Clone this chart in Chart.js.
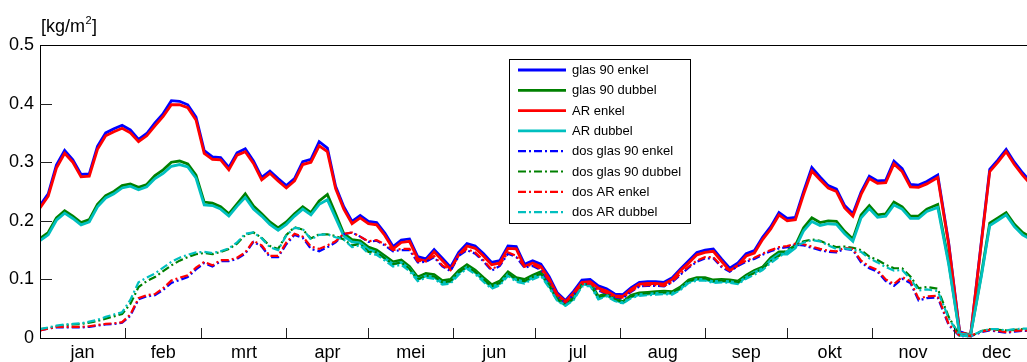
<!DOCTYPE html>
<html>
<head>
<meta charset="utf-8">
<script src="https://cdn.jsdelivr.net/npm/chart.js@4.4.1/dist/chart.umd.min.js"></script>
<style>
  html, body { margin: 0; padding: 0; background: #fff; overflow: hidden; }
  #wrap { width: 1045px; height: 362px; }
</style>
</head>
<body>
<div id="wrap"><canvas id="chart"></canvas></div>
<script>
// day of year for every sample
const days = [
  0, 3, 6, 9, 12, 15, 18, 21, 24, 27,
  30, 33, 36, 39, 42, 45, 48, 51, 54, 57,
  60, 63, 66, 69, 72, 75, 78, 81, 84, 87,
  90, 93, 96, 99, 102, 105, 108, 111, 114, 117,
  120, 123, 126, 129, 132, 135, 138, 141, 144, 147,
  150, 153, 156, 159, 162, 165, 168, 171, 174, 177,
  180, 183, 186, 189, 192, 195, 198, 201, 204, 207,
  210, 213, 216, 219, 222, 225, 228, 231, 234, 237,
  240, 243, 246, 249, 252, 255, 258, 261, 264, 267,
  270, 273, 276, 279, 282, 285, 288, 291, 294, 297,
  300, 303, 306, 309, 312, 315, 318, 321, 324, 328,
  332, 336, 340, 344, 347, 350, 353, 356, 359, 362,
  365
];

const months = ["jan", "feb", "mrt", "apr", "mei", "jun", "jul", "aug", "sep", "okt", "nov", "dec"];
const monthStarts = [0, 31, 59, 90, 120, 151, 181, 212, 243, 273, 304, 334, 365];
const yTicks = [0, 0.1, 0.2, 0.3, 0.4, 0.5];

// condensation [kg/m2] per glazing type
const glas90Enkel = [
  0.226, 0.246, 0.295, 0.320, 0.304, 0.279, 0.280, 0.327, 0.350, 0.357,
  0.363, 0.355, 0.339, 0.349, 0.367, 0.383, 0.405, 0.404, 0.398, 0.377,
  0.320, 0.309, 0.308, 0.291, 0.316, 0.323, 0.302, 0.274, 0.285, 0.272,
  0.260, 0.272, 0.301, 0.305, 0.335, 0.324, 0.259, 0.224, 0.199, 0.209,
  0.199, 0.197, 0.179, 0.156, 0.167, 0.169, 0.139, 0.135, 0.151, 0.136,
  0.121, 0.146, 0.161, 0.157, 0.144, 0.129, 0.132, 0.157, 0.156, 0.126,
  0.132, 0.126, 0.105, 0.077, 0.064, 0.080, 0.099, 0.100, 0.089, 0.084,
  0.075, 0.074, 0.086, 0.095, 0.096, 0.096, 0.095, 0.103, 0.118, 0.132,
  0.146, 0.150, 0.152, 0.135, 0.119, 0.128, 0.144, 0.149, 0.172, 0.190,
  0.214, 0.204, 0.206, 0.250, 0.291, 0.275, 0.260, 0.254, 0.226, 0.212,
  0.249, 0.276, 0.268, 0.269, 0.302, 0.289, 0.262, 0.261, 0.267, 0.278,
  0.162, 0.011, 0.004, 0.167, 0.288, 0.304, 0.322, 0.300, 0.282, 0.266,
  0.262
];
const glas90Dubbel = [
  0.170, 0.180, 0.205, 0.217, 0.208, 0.197, 0.202, 0.228, 0.243, 0.250,
  0.260, 0.263, 0.257, 0.262, 0.277, 0.287, 0.300, 0.302, 0.297, 0.278,
  0.232, 0.230, 0.224, 0.212, 0.229, 0.246, 0.225, 0.212, 0.198, 0.188,
  0.198, 0.212, 0.224, 0.214, 0.234, 0.245, 0.212, 0.178, 0.168, 0.166,
  0.155, 0.150, 0.140, 0.130, 0.133, 0.122, 0.104, 0.110, 0.108, 0.098,
  0.100, 0.115, 0.125, 0.116, 0.103, 0.091, 0.097, 0.113, 0.103, 0.100,
  0.107, 0.113, 0.093, 0.068, 0.058, 0.070, 0.094, 0.095, 0.071, 0.076,
  0.068, 0.062, 0.073, 0.077, 0.078, 0.079, 0.080, 0.079, 0.087, 0.099,
  0.103, 0.103, 0.099, 0.100, 0.099, 0.097, 0.107, 0.115, 0.121, 0.137,
  0.147, 0.147, 0.158, 0.188, 0.205, 0.197, 0.200, 0.199, 0.182, 0.169,
  0.210, 0.226, 0.210, 0.212, 0.232, 0.224, 0.208, 0.208, 0.220, 0.228,
  0.130, 0.008, 0.006, 0.110, 0.196, 0.205, 0.214, 0.194, 0.180, 0.172,
  0.168
];
const arEnkel = [
  0.222, 0.242, 0.290, 0.315, 0.300, 0.275, 0.276, 0.322, 0.345, 0.352,
  0.358, 0.350, 0.335, 0.345, 0.362, 0.378, 0.398, 0.398, 0.393, 0.372,
  0.315, 0.305, 0.304, 0.287, 0.312, 0.318, 0.298, 0.270, 0.281, 0.268,
  0.256, 0.268, 0.296, 0.300, 0.328, 0.318, 0.255, 0.220, 0.195, 0.205,
  0.195, 0.193, 0.175, 0.152, 0.163, 0.165, 0.135, 0.131, 0.147, 0.132,
  0.117, 0.142, 0.157, 0.153, 0.140, 0.125, 0.128, 0.153, 0.152, 0.122,
  0.128, 0.122, 0.101, 0.074, 0.062, 0.077, 0.095, 0.096, 0.085, 0.080,
  0.072, 0.071, 0.083, 0.092, 0.093, 0.093, 0.092, 0.100, 0.115, 0.128,
  0.142, 0.146, 0.148, 0.131, 0.115, 0.124, 0.140, 0.145, 0.168, 0.186,
  0.210, 0.200, 0.202, 0.245, 0.285, 0.270, 0.256, 0.250, 0.222, 0.208,
  0.245, 0.272, 0.264, 0.265, 0.297, 0.284, 0.258, 0.257, 0.263, 0.274,
  0.160, 0.010, 0.004, 0.165, 0.284, 0.300, 0.318, 0.296, 0.278, 0.262,
  0.258
];
const arDubbel = [
  0.166, 0.176, 0.201, 0.213, 0.204, 0.193, 0.198, 0.224, 0.239, 0.246,
  0.256, 0.259, 0.253, 0.258, 0.272, 0.281, 0.293, 0.296, 0.292, 0.273,
  0.227, 0.226, 0.220, 0.208, 0.225, 0.240, 0.220, 0.208, 0.194, 0.184,
  0.194, 0.208, 0.220, 0.210, 0.228, 0.236, 0.205, 0.174, 0.164, 0.162,
  0.151, 0.146, 0.136, 0.126, 0.129, 0.118, 0.100, 0.106, 0.104, 0.094,
  0.096, 0.111, 0.121, 0.112, 0.099, 0.087, 0.093, 0.109, 0.099, 0.096,
  0.103, 0.109, 0.089, 0.065, 0.056, 0.067, 0.091, 0.092, 0.068, 0.073,
  0.065, 0.060, 0.070, 0.074, 0.075, 0.076, 0.077, 0.076, 0.084, 0.096,
  0.100, 0.100, 0.096, 0.097, 0.096, 0.094, 0.104, 0.112, 0.118, 0.133,
  0.143, 0.143, 0.154, 0.183, 0.199, 0.192, 0.195, 0.194, 0.178, 0.165,
  0.205, 0.221, 0.206, 0.208, 0.227, 0.220, 0.204, 0.204, 0.216, 0.223,
  0.126, 0.007, 0.005, 0.107, 0.192, 0.201, 0.210, 0.190, 0.176, 0.168,
  0.164
];
const dosGlas90Enkel = [
  0.013, 0.016, 0.018, 0.018, 0.018, 0.018, 0.019, 0.021, 0.023, 0.024,
  0.026, 0.038, 0.066, 0.071, 0.073, 0.082, 0.094, 0.099, 0.104, 0.117,
  0.128, 0.122, 0.131, 0.131, 0.135, 0.144, 0.164, 0.156, 0.138, 0.138,
  0.160, 0.176, 0.171, 0.152, 0.148, 0.155, 0.163, 0.177, 0.180, 0.173,
  0.164, 0.166, 0.158, 0.148, 0.150, 0.150, 0.129, 0.130, 0.138, 0.122,
  0.114, 0.140, 0.150, 0.144, 0.131, 0.115, 0.123, 0.144, 0.138, 0.120,
  0.123, 0.116, 0.096, 0.071, 0.060, 0.074, 0.091, 0.092, 0.081, 0.076,
  0.069, 0.068, 0.079, 0.088, 0.089, 0.089, 0.088, 0.095, 0.108, 0.120,
  0.130, 0.136, 0.136, 0.121, 0.113, 0.123, 0.130, 0.135, 0.142, 0.148,
  0.153, 0.155, 0.159, 0.158, 0.154, 0.150, 0.147, 0.146, 0.152, 0.150,
  0.129, 0.119, 0.113, 0.097, 0.089, 0.101, 0.094, 0.064, 0.068, 0.069,
  0.022, 0.003, 0.003, 0.010, 0.013, 0.011, 0.009, 0.011, 0.012, 0.012,
  0.012
];
const dosGlas90Dubbel = [
  0.015, 0.017, 0.020, 0.022, 0.023, 0.024, 0.026, 0.029, 0.033, 0.037,
  0.041, 0.058, 0.087, 0.097, 0.104, 0.114, 0.124, 0.132, 0.138, 0.143,
  0.145, 0.143, 0.147, 0.152, 0.161, 0.176, 0.180, 0.171, 0.157, 0.152,
  0.176, 0.189, 0.185, 0.170, 0.177, 0.177, 0.174, 0.168, 0.158, 0.160,
  0.147, 0.146, 0.136, 0.126, 0.129, 0.118, 0.100, 0.106, 0.105, 0.095,
  0.097, 0.112, 0.122, 0.113, 0.100, 0.088, 0.094, 0.110, 0.100, 0.097,
  0.104, 0.110, 0.090, 0.066, 0.057, 0.068, 0.091, 0.092, 0.069, 0.074,
  0.066, 0.061, 0.071, 0.075, 0.076, 0.077, 0.078, 0.077, 0.085, 0.097,
  0.101, 0.101, 0.097, 0.098, 0.097, 0.095, 0.104, 0.111, 0.119, 0.131,
  0.140, 0.150, 0.158, 0.165, 0.168, 0.166, 0.160, 0.155, 0.156, 0.154,
  0.150, 0.139, 0.133, 0.125, 0.119, 0.119, 0.105, 0.085, 0.087, 0.084,
  0.036, 0.004, 0.003, 0.012, 0.015, 0.014, 0.013, 0.014, 0.015, 0.015,
  0.015
];
const dosArEnkel = [
  0.013, 0.016, 0.019, 0.019, 0.019, 0.019, 0.020, 0.022, 0.024, 0.025,
  0.027, 0.040, 0.068, 0.073, 0.075, 0.085, 0.098, 0.103, 0.107, 0.120,
  0.130, 0.124, 0.133, 0.133, 0.137, 0.146, 0.166, 0.158, 0.140, 0.140,
  0.163, 0.178, 0.173, 0.156, 0.152, 0.158, 0.165, 0.178, 0.180, 0.173,
  0.165, 0.167, 0.160, 0.150, 0.152, 0.152, 0.131, 0.132, 0.140, 0.124,
  0.116, 0.142, 0.152, 0.146, 0.133, 0.117, 0.125, 0.146, 0.140, 0.122,
  0.125, 0.118, 0.098, 0.072, 0.061, 0.075, 0.092, 0.093, 0.082, 0.077,
  0.070, 0.069, 0.080, 0.089, 0.090, 0.090, 0.089, 0.096, 0.110, 0.122,
  0.132, 0.138, 0.138, 0.123, 0.115, 0.125, 0.132, 0.137, 0.144, 0.150,
  0.155, 0.157, 0.161, 0.160, 0.156, 0.152, 0.149, 0.148, 0.154, 0.152,
  0.132, 0.122, 0.116, 0.100, 0.092, 0.104, 0.097, 0.067, 0.071, 0.072,
  0.024, 0.004, 0.004, 0.011, 0.014, 0.012, 0.010, 0.012, 0.013, 0.013,
  0.013
];
const dosArDubbel = [
  0.015, 0.018, 0.021, 0.023, 0.024, 0.025, 0.028, 0.031, 0.036, 0.040,
  0.044, 0.065, 0.095, 0.103, 0.110, 0.120, 0.130, 0.137, 0.142, 0.146,
  0.147, 0.145, 0.148, 0.153, 0.163, 0.178, 0.180, 0.170, 0.155, 0.150,
  0.175, 0.188, 0.186, 0.168, 0.176, 0.177, 0.172, 0.168, 0.155, 0.158,
  0.144, 0.142, 0.132, 0.122, 0.125, 0.114, 0.097, 0.103, 0.101, 0.091,
  0.093, 0.108, 0.118, 0.109, 0.096, 0.084, 0.090, 0.106, 0.096, 0.093,
  0.100, 0.106, 0.086, 0.063, 0.055, 0.065, 0.088, 0.089, 0.066, 0.071,
  0.063, 0.059, 0.068, 0.072, 0.073, 0.074, 0.075, 0.074, 0.082, 0.094,
  0.098, 0.098, 0.094, 0.095, 0.094, 0.092, 0.101, 0.108, 0.116, 0.128,
  0.138, 0.148, 0.156, 0.163, 0.167, 0.165, 0.158, 0.152, 0.153, 0.151,
  0.147, 0.136, 0.129, 0.121, 0.115, 0.116, 0.101, 0.081, 0.083, 0.080,
  0.034, 0.004, 0.003, 0.012, 0.015, 0.015, 0.013, 0.015, 0.016, 0.016,
  0.016
];

const FONT = '"Liberation Sans", Arial, sans-serif';
const BLUE = "#0000ff", GREEN = "#008000", RED = "#ff0000", CYAN = "#00bfbf";
const DASHDOT = [8, 3, 2, 3];

const series = [
  { label: "glas 90 enkel", values: glas90Enkel, color: BLUE, dash: [] },
  { label: "glas 90 dubbel", values: glas90Dubbel, color: GREEN, dash: [] },
  { label: "AR enkel", values: arEnkel, color: RED, dash: [] },
  { label: "AR dubbel", values: arDubbel, color: CYAN, dash: [] },
  { label: "dos glas 90 enkel", values: dosGlas90Enkel, color: BLUE, dash: DASHDOT },
  { label: "dos glas 90 dubbel", values: dosGlas90Dubbel, color: GREEN, dash: DASHDOT },
  { label: "dos AR enkel", values: dosArEnkel, color: RED, dash: DASHDOT },
  { label: "dos AR dubbel", values: dosArDubbel, color: CYAN, dash: DASHDOT },
];

const datasets = series.map((s, i) => ({
  label: s.label,
  data: days.map((d, k) => ({ x: d, y: s.values[k] })),
  borderColor: s.color,
  backgroundColor: s.color,
  borderWidth: s.dash.length ? 2.2 : 2.8,
  borderDash: s.dash,
  pointRadius: 0,
  tension: 0,
  fill: false,
  // later series are painted over earlier ones
  order: series.length - i,
}));

// box, inward tick marks
const framePlugin = {
  id: "frame",
  afterDatasetsDraw(chart) {
    const { ctx, chartArea: a, scales } = chart;
    ctx.save();
    ctx.strokeStyle = "#000";
    ctx.lineWidth = 1;
    ctx.strokeRect(a.left + 0.5, a.top + 0.5, a.right - a.left, a.bottom - a.top);
    ctx.strokeStyle = "#222";
    ctx.beginPath();
    monthStarts.slice(1, -1).forEach((d) => {
      const px = Math.round(scales.x.getPixelForValue(d)) + 0.5;
      ctx.moveTo(px, a.bottom);
      ctx.lineTo(px, a.bottom - 10);
    });
    yTicks.slice(1, -1).forEach((v) => {
      const py = Math.round(scales.y.getPixelForValue(v)) + 0.5;
      ctx.moveTo(a.left, py);
      ctx.lineTo(a.left + 12, py);
    });
    ctx.stroke();
    ctx.restore();
  },
};

// unit label above the y axis
const unitPlugin = {
  id: "unit",
  afterDraw(chart) {
    const { ctx, chartArea: a } = chart;
    ctx.save();
    ctx.fillStyle = "#000";
    ctx.textBaseline = "alphabetic";
    ctx.font = "18px " + FONT;
    let x = a.left + 1;
    const base = 32;
    ctx.fillText("[kg/m", x, base);
    x += ctx.measureText("[kg/m").width;
    ctx.font = "11px " + FONT;
    ctx.fillText("2", x + 0.5, base - 8);
    x += ctx.measureText("2").width + 1;
    ctx.font = "18px " + FONT;
    ctx.fillText("]", x, base);
    ctx.restore();
  },
};

// boxed legend inside the plot
const legendPlugin = {
  id: "boxLegend",
  afterDraw(chart) {
    const { ctx } = chart;
    const box = { left: 509, top: 59, width: 181, height: 164 };
    ctx.save();
    ctx.fillStyle = "#fff";
    ctx.fillRect(box.left, box.top, box.width, box.height);
    ctx.strokeStyle = "#000";
    ctx.lineWidth = 1;
    ctx.strokeRect(box.left + 0.5, box.top + 0.5, box.width, box.height);
    ctx.font = "13px " + FONT;
    ctx.textBaseline = "middle";
    chart.data.datasets.forEach((ds, i) => {
      const y = box.top + 11 + i * 20.3;
      ctx.beginPath();
      ctx.strokeStyle = ds.borderColor;
      ctx.lineWidth = ds.borderWidth;
      ctx.setLineDash(ds.borderDash);
      ctx.moveTo(box.left + 9, y);
      ctx.lineTo(box.left + 57, y);
      ctx.stroke();
      ctx.setLineDash([]);
      ctx.fillStyle = "#000";
      ctx.fillText(ds.label, box.left + 63, y + 0.5);
    });
    ctx.restore();
  },
};

new Chart(document.getElementById("chart"), {
  type: "line",
  data: { datasets },
  options: {
    responsive: true,
    maintainAspectRatio: false,
    animation: false,
    layout: { padding: { top: 45, right: 6, bottom: 0, left: 0 } },
    plugins: { legend: { display: false }, tooltip: { enabled: false } },
    scales: {
      x: {
        type: "linear",
        min: 0,
        max: 365,
        grid: { display: false, drawTicks: false, tickLength: 0 },
        border: { display: false },
        afterBuildTicks(scale) {
          scale.ticks = months.map((m, i) => ({ value: (monthStarts[i] + monthStarts[i + 1]) / 2 }));
        },
        afterFit(scale) { scale.height = 24; },
        ticks: {
          autoSkip: false,
          maxRotation: 0,
          minRotation: 0,
          padding: 4,
          color: "#000",
          font: { family: FONT, size: 18 },
          callback: (v, i) => months[i],
        },
      },
      y: {
        min: 0,
        max: 0.5,
        grid: { display: false, drawTicks: false, tickLength: 0 },
        border: { display: false },
        afterBuildTicks(scale) {
          scale.ticks = yTicks.map((v) => ({ value: v }));
        },
        afterFit(scale) { scale.width = 40; },
        ticks: {
          padding: 6,
          color: "#000",
          font: { family: FONT, size: 18 },
          callback: (v) => (v === 0 ? "0" : v.toFixed(1)),
        },
      },
    },
  },
  plugins: [framePlugin, unitPlugin, legendPlugin],
});
</script>
</body>
</html>
